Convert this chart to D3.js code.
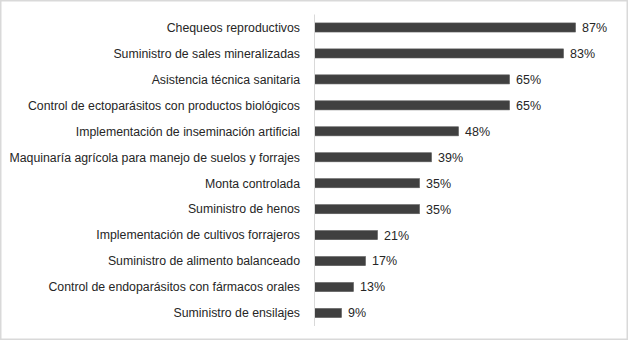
<!DOCTYPE html>
<html>
<head>
<meta charset="utf-8">
<script src="https://cdn.jsdelivr.net/npm/d3@7"></script>
<style>
  body { margin: 0; background: #fff; }
  svg text { font-family: "Liberation Sans", Arial, sans-serif; fill: #262626; }
</style>
</head>
<body>
<div id="chart"></div>
<script>
// categories top to bottom, values in percent
const categories = [
  "Chequeos reproductivos",
  "Suministro de sales mineralizadas ",
  "Asistencia técnica sanitaria",
  "Control de ectoparásitos con productos biológicos",
  "Implementación de inseminación artificial",
  "Maquinaría agrícola para manejo de suelos y forrajes",
  "Monta controlada",
  "Suministro de henos",
  "Implementación de cultivos forrajeros",
  "Suministro de alimento balanceado",
  "Control de endoparásitos con fármacos orales",
  "Suministro de ensilajes"
];
const values = [87, 83, 65, 65, 48, 39, 35, 35, 21, 17, 13, 9];

const width = 629, height = 341;
const margin = {top: 14.5, right: 15, bottom: 15, left: 314.5};

let svg = d3.select("#chart").append("svg")
  .attr("width", width)
  .attr("height", height);

// outer frame
svg.append("rect")
  .attr("x", 0.75).attr("y", 0.75)
  .attr("width", 626.5).attr("height", 338.5)
  .attr("fill", "none")
  .attr("stroke", "#d9d9d9")
  .attr("stroke-width", 1.5);

let x = d3.scaleLinear().domain([0, 100]).range([margin.left, margin.left + 300]);
let y = d3.scaleBand().domain(categories).range([margin.top, 326]).paddingInner(0.65).paddingOuter(0.325);

// category labels
svg.selectAll(".cat")
  .data(categories)
  .enter().append("text")
  .attr("class", "cat")
  .attr("x", 300)
  .attr("y", d => y(d) + y.bandwidth() / 2)
  .attr("dy", "0.35em")
  .attr("text-anchor", "end")
  .style("font-size", "12.3px")
  .text(d => d);

// bars
svg.selectAll(".bar")
  .data(values)
  .enter().append("rect")
  .attr("class", "bar")
  .attr("x", x(0))
  .attr("y", (d, i) => y(categories[i]))
  .attr("width", d => x(d) - x(0))
  .attr("height", y.bandwidth())
  .attr("fill", "#404040")
  .attr("stroke", "#5a5a5a")
  .attr("stroke-width", 0.6);

// axis line
svg.append("line")
  .attr("x1", x(0)).attr("x2", x(0))
  .attr("y1", margin.top).attr("y2", 326)
  .attr("stroke", "#d9d9d9")
  .attr("stroke-width", 1);

// value labels
svg.selectAll(".val")
  .data(values)
  .enter().append("text")
  .attr("class", "val")
  .attr("x", d => x(d) + 6.5)
  .attr("y", (d, i) => y(categories[i]) + y.bandwidth() / 2)
  .attr("dy", "0.35em")
  .style("font-size", "12.5px")
  .text(d => d + "%");
</script>
</body>
</html>
